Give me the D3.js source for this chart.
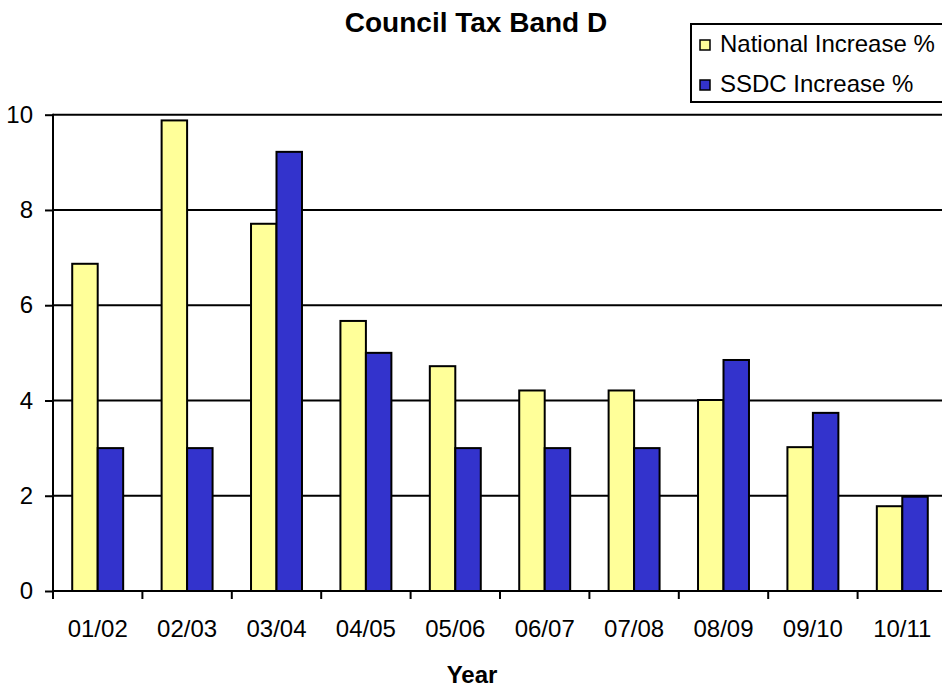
<!DOCTYPE html>
<html>
<head>
<meta charset="utf-8">
<script src="https://cdn.jsdelivr.net/npm/d3@7"></script>
<style>
  html, body { margin: 0; padding: 0; background: #fff; }
  svg { display: block; font-family: Arial, "Liberation Sans", Helvetica, sans-serif; }
</style>
</head>
<body>
<svg id="chart" width="942" height="688"></svg>
<script>
// Council tax band D: yearly increase, national average vs SSDC
const years = ["01/02", "02/03", "03/04", "04/05", "05/06", "06/07", "07/08", "08/09", "09/10", "10/11"];
const nationalIncrease = [6.87, 9.88, 7.71, 5.67, 4.72, 4.21, 4.21, 4.01, 3.02, 1.78];
const ssdcIncrease = [3.0, 3.0, 9.22, 5.0, 3.0, 3.0, 3.0, 4.85, 3.74, 1.98];
const seriesNames = ["National Increase %", "SSDC Increase %"];
const seriesColors = ["#FFFF99", "#3333CC"];
const yTicks = [0, 2, 4, 6, 8, 10];

const svg = d3.select("#chart");
const W = 942, H = 688;

// plot frame (the category axis runs a little past the right edge of the page)
const plotLeft = 53, plotRight = 947, plotTop = 114.7, plotBottom = 591;

const x = d3.scaleBand().domain(years).range([plotLeft, plotRight]).paddingInner(0.43).paddingOuter(0.215);
const xs = d3.scaleBand().domain(seriesNames).range([0, x.bandwidth()]);
const y = d3.scaleLinear().domain([0, 10]).range([plotBottom, plotTop]);

const step = x.step();

// horizontal gridlines
svg.append("g")
  .selectAll("line")
  .data(yTicks.filter(d => d > 0))
  .join("line")
  .attr("x1", plotLeft).attr("x2", W)
  .attr("y1", d => y(d)).attr("y2", d => y(d))
  .attr("stroke", "#000").attr("stroke-width", 2);

// bars
const data = years.map((yr, i) => ({ year: yr, values: [nationalIncrease[i], ssdcIncrease[i]] }));
svg.append("g")
  .selectAll("g")
  .data(data)
  .join("g")
  .attr("transform", d => `translate(${x(d.year)},0)`)
  .selectAll("rect")
  .data(d => d.values.map((v, j) => ({ name: seriesNames[j], value: v, color: seriesColors[j] })))
  .join("rect")
  .attr("x", d => xs(d.name))
  .attr("width", xs.bandwidth())
  .attr("y", d => y(d.value))
  .attr("height", d => y(0) - y(d.value))
  .attr("fill", d => d.color)
  .attr("stroke", "#000")
  .attr("stroke-width", 2);

// y axis
const yAxis = svg.append("g")
  .attr("transform", `translate(${plotLeft},0)`)
  .call(d3.axisLeft(y).tickValues(yTicks).tickSize(8).tickPadding(12).tickFormat(d3.format("d")));
yAxis.select(".domain").remove();
yAxis.selectAll(".tick line").attr("stroke", "#000").attr("stroke-width", 2);
yAxis.selectAll(".tick text").attr("font-size", 24).attr("fill", "#000")
  .attr("font-family", "Arial, 'Liberation Sans', sans-serif");
yAxis.append("line")
  .attr("x1", 0).attr("x2", 0).attr("y1", plotTop - 1).attr("y2", plotBottom + 8)
  .attr("stroke", "#000").attr("stroke-width", 2);

// x axis: baseline, boundary ticks and category labels
const xAxis = svg.append("g")
  .attr("transform", `translate(0,${plotBottom})`)
  .call(d3.axisBottom(x).tickSize(0).tickPadding(29));
xAxis.select(".domain").remove();
xAxis.selectAll(".tick text").attr("font-size", 24).attr("fill", "#000")
  .attr("font-family", "Arial, 'Liberation Sans', sans-serif");
xAxis.append("line")
  .attr("x1", plotLeft).attr("x2", W).attr("y1", 0).attr("y2", 0)
  .attr("stroke", "#000").attr("stroke-width", 2);
xAxis.append("g")
  .selectAll("line")
  .data(d3.range(years.length + 1))
  .join("line")
  .attr("x1", i => plotLeft + i * step).attr("x2", i => plotLeft + i * step)
  .attr("y1", 0).attr("y2", 8)
  .attr("stroke", "#000").attr("stroke-width", 2);

// title and axis title
svg.append("text")
  .attr("x", 476).attr("y", 32)
  .attr("text-anchor", "middle")
  .attr("font-size", 28).attr("font-weight", "bold")
  .text("Council Tax Band D");

svg.append("text")
  .attr("x", 472).attr("y", 683)
  .attr("text-anchor", "middle")
  .attr("font-size", 24).attr("font-weight", "bold")
  .text("Year");

// legend
const legend = svg.append("g").attr("transform", "translate(691,24)");
legend.append("rect")
  .attr("x", 0).attr("y", 0).attr("width", 270).attr("height", 78)
  .attr("fill", "#fff").attr("stroke", "#000").attr("stroke-width", 2);
const item = legend.selectAll("g.item")
  .data(seriesNames)
  .join("g")
  .attr("class", "item")
  .attr("transform", (d, i) => `translate(0,${i * 40})`);
item.append("rect")
  .attr("x", 9).attr("y", 16).attr("width", 10).attr("height", 10)
  .attr("fill", (d, i) => seriesColors[i])
  .attr("stroke", "#000").attr("stroke-width", 1.5);
item.append("text")
  .attr("x", 29).attr("y", 28)
  .attr("font-size", 24)
  .text(d => d);
</script>
</body>
</html>
